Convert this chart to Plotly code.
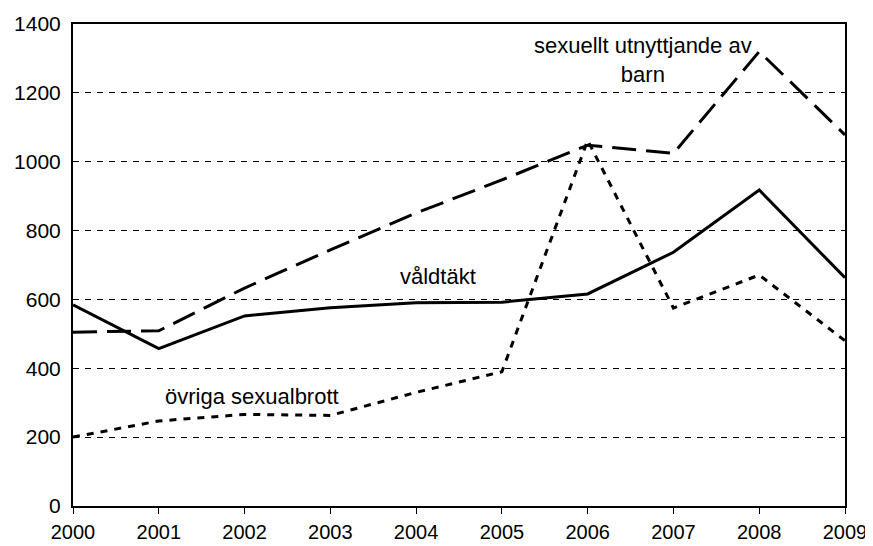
import plotly.graph_objects as go

years = [2000, 2001, 2002, 2003, 2004, 2005, 2006, 2007, 2008, 2009]
valdtakt = [584, 457, 552, 576, 590, 592, 616, 737, 918, 663]
sexuellt_barn = [505, 509, 633, 744, 851, 947, 1048, 1024, 1320, 1078]
ovriga = [200, 247, 266, 263, 330, 390, 1062, 575, 671, 480]
y_ticks = [0, 200, 400, 600, 800, 1000, 1200, 1400]

font = "Liberation Sans, Arial, sans-serif"

fig = go.Figure()
fig.add_trace(go.Scatter(x=years, y=sexuellt_barn, mode="lines",
                         line=dict(color="black", width=3, dash="24px,10px"),
                         name="sexuellt utnyttjande av barn"))
fig.add_trace(go.Scatter(x=years, y=ovriga, mode="lines",
                         line=dict(color="black", width=3, dash="7px,7px"),
                         name="övriga sexualbrott"))
fig.add_trace(go.Scatter(x=years, y=valdtakt, mode="lines",
                         line=dict(color="black", width=3),
                         name="våldtäkt"))

fig.add_annotation(x=2006.64, y=1295, text="sexuellt utnyttjande av<br>barn",
                   showarrow=False, font=dict(family=font, size=22, color="black"),
                   align="center")
fig.add_annotation(x=2004.26, y=666, text="våldtäkt", showarrow=False,
                   font=dict(family=font, size=22, color="black"))
fig.add_annotation(x=2002.09, y=319, text="övriga sexualbrott", showarrow=False,
                   font=dict(family=font, size=22, color="black"))

fig.update_layout(
    width=865, height=538,
    margin=dict(l=65, r=28, t=16, b=40, autoexpand=False),
    paper_bgcolor="white", plot_bgcolor="white",
    showlegend=False,
    font=dict(family=font, size=21, color="black"),
)
fig.update_xaxes(range=[2000, 2009], tickvals=years, ticktext=[str(y) for y in years],
                 showgrid=False, showline=True, linecolor="black", linewidth=2,
                 mirror=True, ticks="outside", ticklen=6, tickcolor="black",
                 zeroline=False, tickfont=dict(size=20), automargin=False,
                 ticklabelstandoff=1)
fig.update_yaxes(range=[0, 1400], tickvals=y_ticks, showgrid=True,
                 gridcolor="black", gridwidth=1, griddash="6px,6px",
                 showline=True, linecolor="black", linewidth=2, mirror=True,
                 ticks="", zeroline=False, tickfont=dict(size=21), automargin=False,
                 ticklabelstandoff=6)

fig.write_html("out.html")
